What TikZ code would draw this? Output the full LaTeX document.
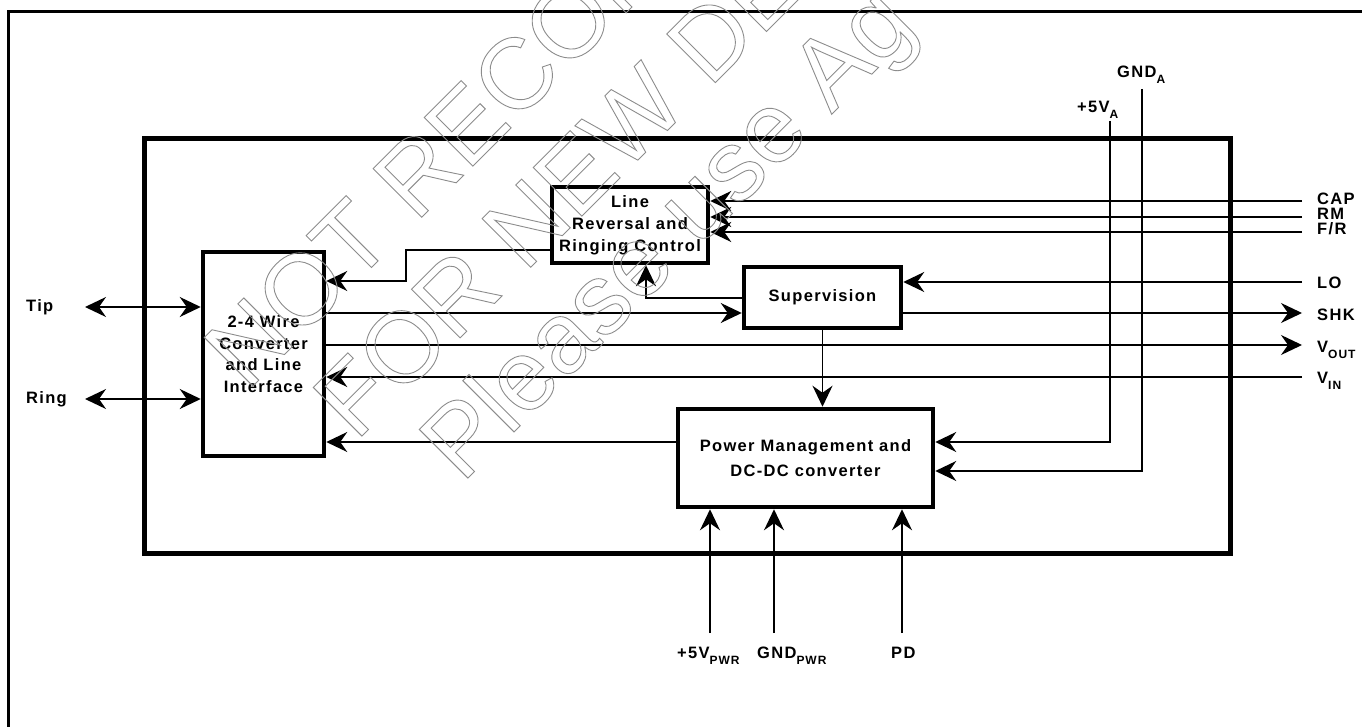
\documentclass[tikz,border=0pt]{standalone}
\usepackage{fontspec}
\setmainfont{Liberation Sans}[LetterSpace=8]
\newfontfamily\wmfont{Liberation Sans}
\usetikzlibrary{arrows.meta, positioning}

\newcommand{\pinsub}[1]{\raisebox{-6pt}{\fontsize{12}{12}\selectfont #1}}
\newcommand{\outlined}[1]{\special{pdf:code 1 Tr 0.9 w}#1\special{pdf:code 0 Tr}}

\begin{document}
\begin{tikzpicture}[
    x=1pt, y=-1pt,
    font=\fontsize{16.5}{18}\selectfont\bfseries,
    block/.style={
        draw=black, line width=4.5pt, inner sep=0pt, align=center
    },
    sig/.style={
        -{Stealth[length=21pt, width=20pt, inset=7pt]}, line width=1.5pt
    },
    bisig/.style={
        {Stealth[length=21pt, width=20pt, inset=7pt]}-{Stealth[length=21pt, width=20pt, inset=7pt]},
        line width=1.5pt
    },
    pinlabel/.style={anchor=base west, inner sep=0pt},
    wmark/.style={
        anchor=base west, inner sep=0pt, rotate=45, text=black!45,
        font=\wmfont\fontsize{100}{100}\selectfont
    }
]

\useasboundingbox (0,0) rectangle (1362,727);

% frames
\draw[line width=3pt] (8,12) rectangle (1420,790);
\draw[line width=5pt] (144,139) rectangle (1230,553);

% blocks
\node[block, minimum width=121pt, minimum height=204pt, font=\fontsize{16.5}{21.5}\selectfont\bfseries] (wire) at (263.5,354)
    {2-4 Wire\\Converter\\and Line\\Interface};
\node[block, minimum width=156pt, minimum height=76pt, font=\fontsize{16.5}{22}\selectfont\bfseries] (linerev) at (630,225)
    {Line\\Reversal and\\Ringing Control};
\node[block, minimum width=157pt, minimum height=61pt] (superv) at (822.5,297.5) {Supervision};
\node[block, minimum width=255pt, minimum height=98pt, font=\fontsize{16.5}{25}\selectfont\bfseries] (power) at (805.5,458)
    {Power Management and\\DC-DC converter};

% pin labels
\node[pinlabel] (tiplbl) at (26,311) {Tip};
\node[pinlabel] (ringlbl) at (26,403) {Ring};
\node[pinlabel] (caplbl) at (1317,205) {CAP};
\node[pinlabel] (rmlbl) at (1317,220) {RM};
\node[pinlabel] (frlbl) at (1317,235) {F/R};
\node[pinlabel] (lolbl) at (1317,288) {LO};
\node[pinlabel] (shklbl) at (1317,320) {SHK};
\node[pinlabel] (voutlbl) at (1317,352) {V\pinsub{OUT}};
\node[pinlabel] (vinlbl) at (1317,383) {V\pinsub{IN}};
\node[pinlabel] (valbl) at (1077,113) {+5V\pinsub{A}};
\node[pinlabel] (gndalbl) at (1117,78) {GND\pinsub{A}};
\node[pinlabel] (vpwrlbl) at (677,658) {+5V\pinsub{PWR}};
\node[pinlabel] (gpwrlbl) at (757,658) {GND\pinsub{PWR}};
\node[pinlabel] (pdlbl) at (891,658) {PD};

% free ends and bends
\coordinate (tipend) at (85,307);
\coordinate (ringend) at (85,399);
\coordinate (capin) at (1302,201);
\coordinate (rmin) at (1302,217);
\coordinate (frin) at (1302,232);
\coordinate (loin) at (1302,282);
\coordinate (shkout) at (1302,313);
\coordinate (voutend) at (1302,345);
\coordinate (vinend) at (1302,377);
\coordinate (vatop) at (1110,121);
\coordinate (vaturn) at (1110,442);
\coordinate (gndatop) at (1142,89);
\coordinate (gndaturn) at (1142,471);
\coordinate (vpwrend) at (710,633);
\coordinate (gpwrend) at (774,633);
\coordinate (pdend) at (902,633);
\coordinate (lrjog) at (406,250);
\coordinate (lrjoglow) at (406,281);
\coordinate (suptap) at (646,298);
\coordinate (pwrback) at (0,442);

% connectors
\draw[bisig] (tipend) -- (wire.west |- tipend);
\draw[bisig] (ringend) -- (wire.west |- ringend);
\draw[sig] (linerev.west |- lrjog) -- (lrjog) -- (lrjoglow) -- (wire.east |- lrjoglow);
\draw[sig] (wire.east |- shkout) -- (superv.west |- shkout);
\draw[sig] (wire.east |- voutend) -- (voutend);
\draw[sig] (vinend) -- (wire.east |- vinend);
\draw[sig] (power.west |- pwrback) -- (wire.east |- pwrback);
\draw[sig] (superv.west |- suptap) -- (suptap) -- (linerev.south -| suptap);
\draw[sig] (superv.south) -- (superv.south |- power.north);
\draw[sig] (loin) -- (superv.east |- loin);
\draw[sig] (superv.east |- shkout) -- (shkout);
\foreach \c in {capin, rmin, frin}
    \draw[sig] (\c) -- (linerev.east |- \c);
\draw[sig] (vatop) -- (vaturn) -- (power.east |- vaturn);
\draw[sig] (gndatop) -- (gndaturn) -- (power.east |- gndaturn);
\foreach \c in {vpwrend, gpwrend, pdend}
    \draw[sig] (\c) -- (power.south -| \c);

% watermark
\node[wmark] (wm1) at (247,392) {\outlined{NOT RECOM}};
\node[wmark] (wm2) at (356,442) {\outlined{FOR NEW DE}};
\node[wmark] (wm3) at (462,484) {\outlined{Please use Ag}};

\end{tikzpicture}
\end{document}
